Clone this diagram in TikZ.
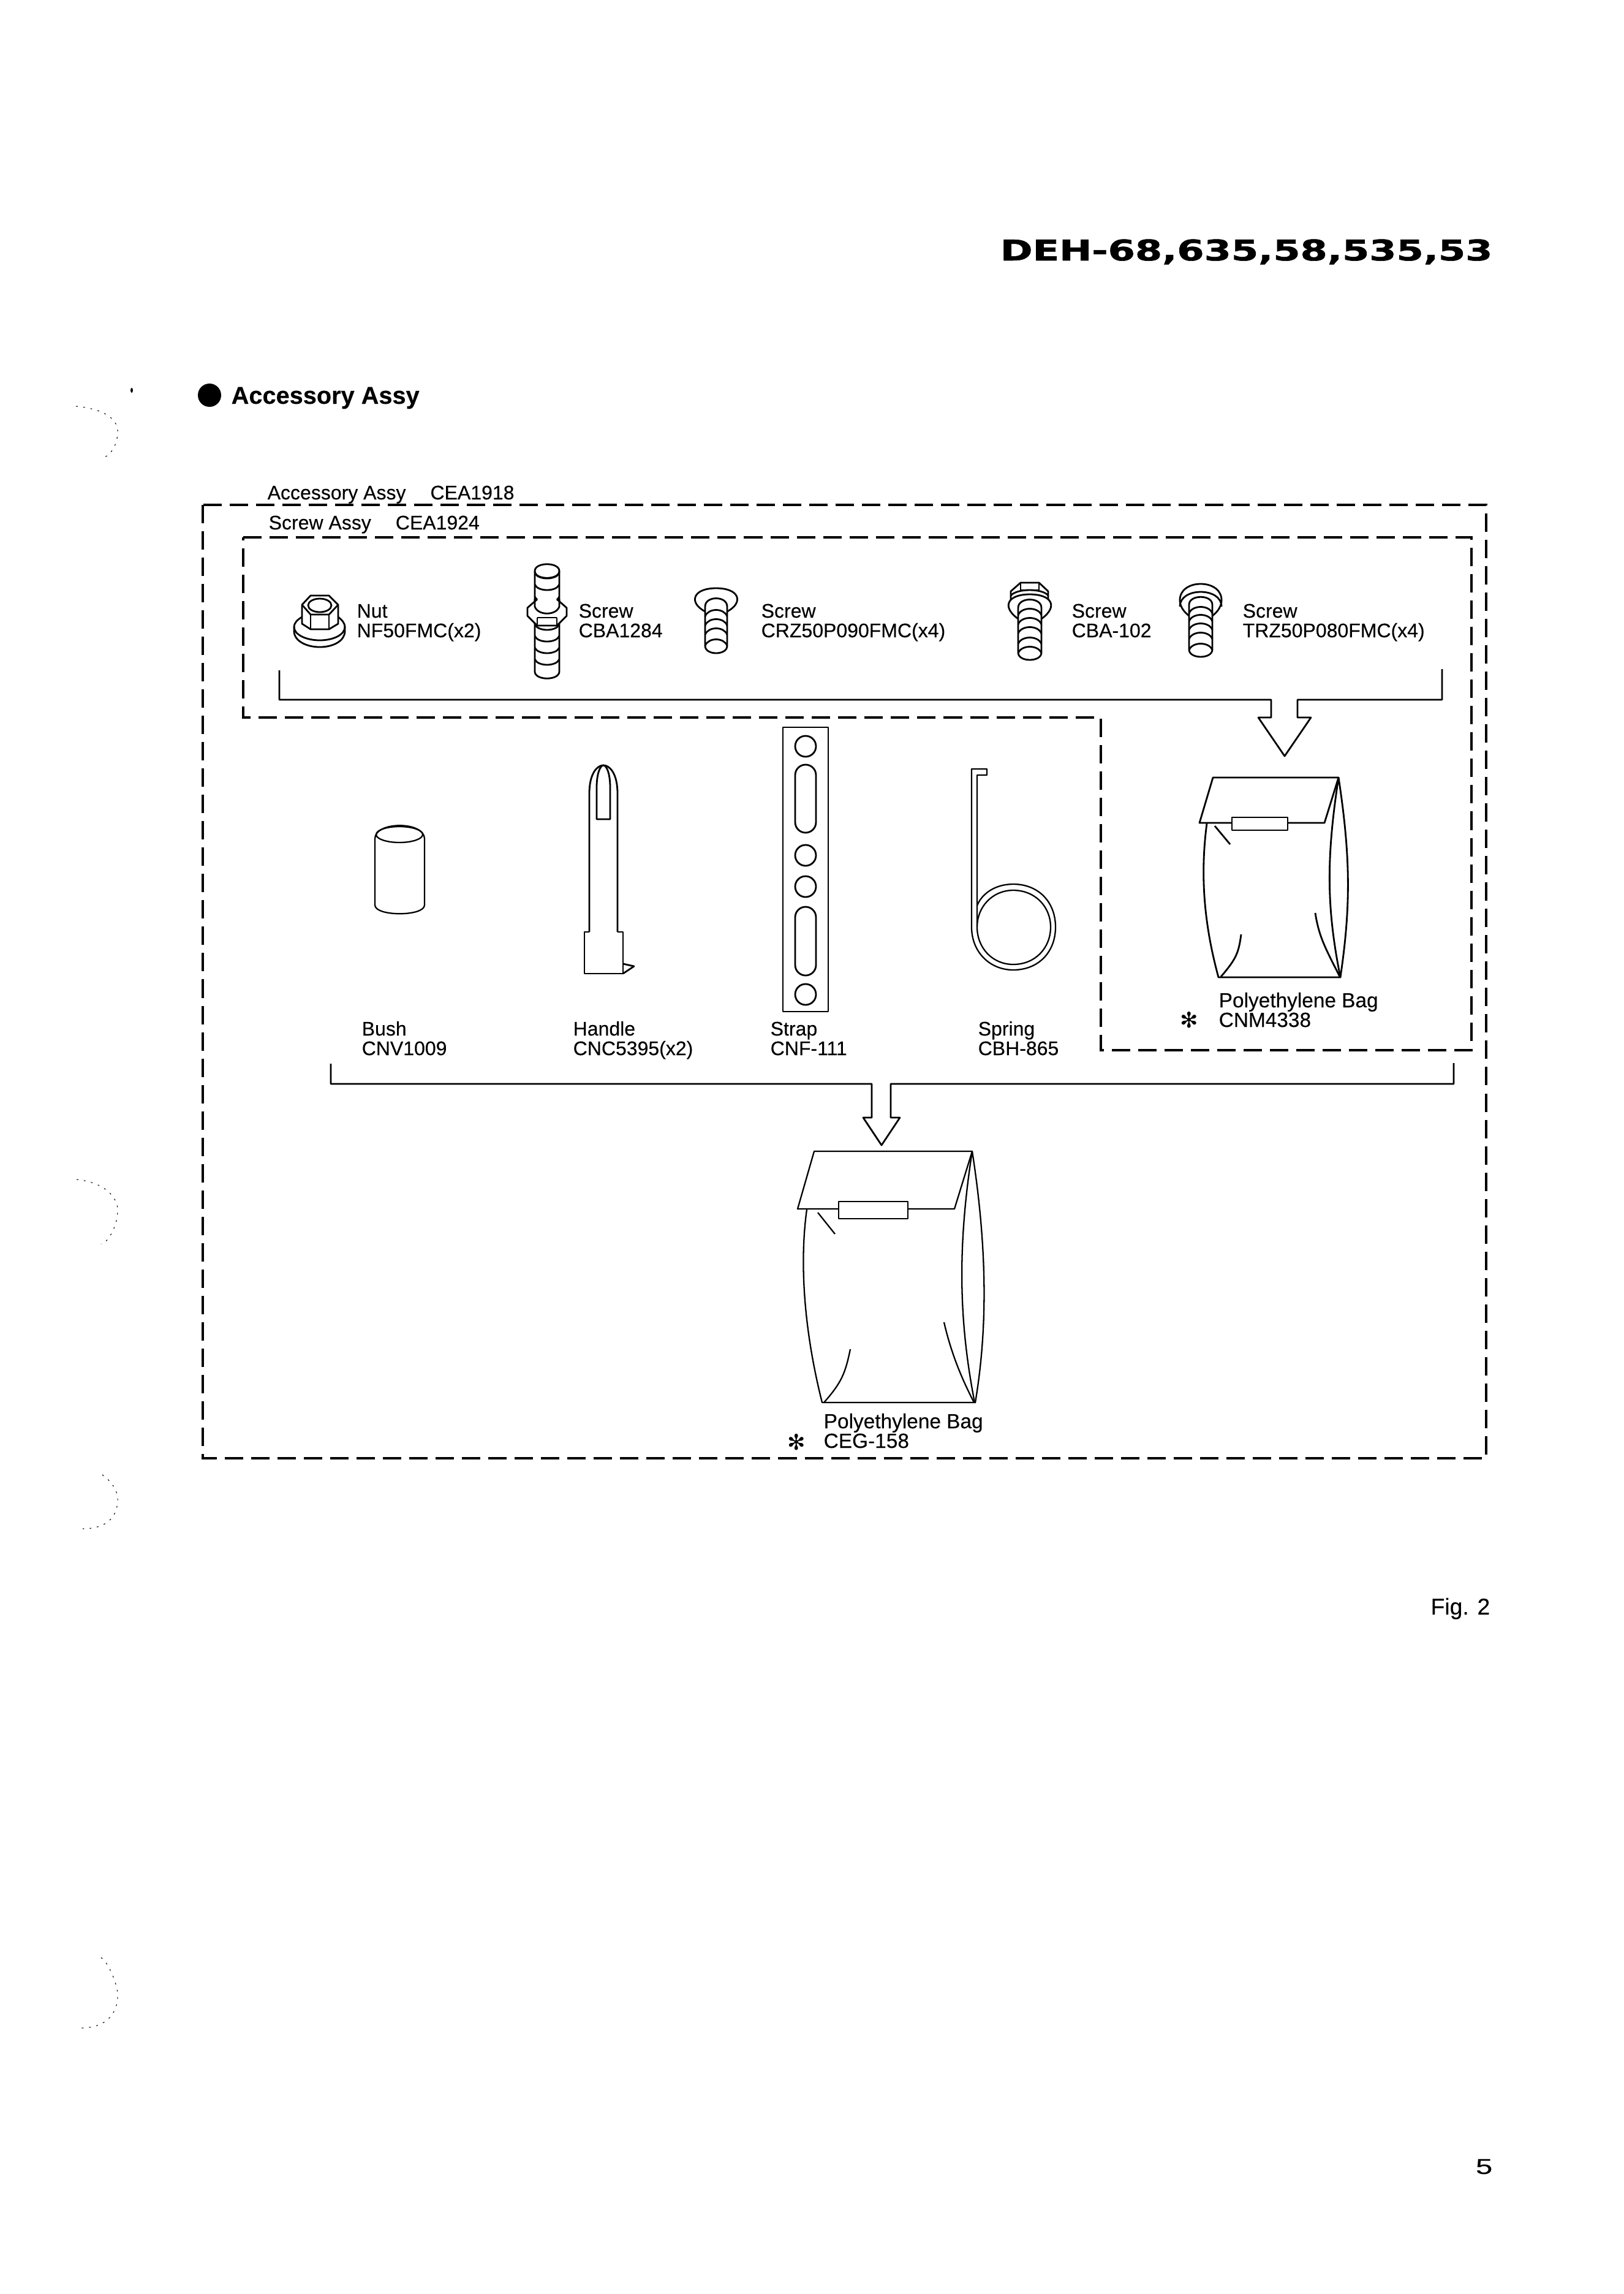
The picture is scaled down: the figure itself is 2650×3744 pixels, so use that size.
\documentclass[tikz,border=0pt]{standalone}
\usepackage{fontspec}
\setmainfont[FakeBold=0.2]{Liberation Sans}
\newfontfamily\wideface[FakeBold=1.2]{DejaVu Sans}
\newfontfamily\starface{DejaVu Sans}

\tikzset{
	part/.style={draw=black,line width=0.8pt,line join=round},
	thinpart/.style={draw=black,line width=0.65pt,line join=round},
	dashbox/.style={draw=black,line width=1.1pt,dash pattern=on 0.3cm off 0.13cm},
	frontpart/.style={part,fill=white},
	lbl/.style={inner sep=0pt,anchor=base west,align=left,font=\fontsize{9.1}{9.1}\selectfont},
	baglbl/.style={lbl,font=\fontsize{9.5}{9.1}\selectfont},
	starlbl/.style={inner sep=0pt,font=\starface\fontsize{10}{10}\selectfont},
	holemark/.style={draw=black,line width=0.3pt,dash pattern=on 0.8pt off 2.6pt}
}

\begin{document}
\begin{tikzpicture}[x=0.01cm,y=-0.01cm]
	\useasboundingbox (0,0) rectangle (2650,3744);

	% page header and heading
	\node[inner sep=0pt,anchor=base east] (title) at (2437,425)
		{\scalebox{1.37}[1]{\wideface\bfseries\fontsize{13.2}{13.2}\selectfont DEH-68,635,58,535,53}};
	\fill (342,645) ellipse (19 and 19);
	\fill (215,637) ellipse (2 and 4);
	\node[inner sep=0pt,anchor=base west,font=\bfseries\fontsize{11.3}{11.3}\selectfont] (heading) at (377,659) {Accessory Assy};

	% binding holes showing through
	\foreach \ty/\ry/\by/\tx/\bx in {663/707/747/124/167,1925/1978/2030/125/165,2407/2450/2495/167/135,3195/3260/3310/165/130}
		\draw[holemark] (\tx,\ty) .. controls (175,\ty+5) and (194,\ry-20) .. (192,\ry) .. controls (191,\ry+25) and (175,\by) .. (\bx,\by);

	% assy frames
	\draw[dashbox] (331,824) rectangle (2426,2380);
	\draw[dashbox] (397,877) -- (2402,877) -- (2402,1714) -- (1797,1714) -- (1797,1171) -- (397,1171) -- cycle;
	\node[lbl] (accassy) at (436,815) {Accessory Assy\hspace{1.25em}CEA1918};
	\node[lbl] (scrassy) at (438,864) {Screw Assy\hspace{1.25em}CEA1924};

	% nut
	\draw[part] (493,1007) .. controls (484,1012) and (480,1018) .. (480,1023) -- (480,1030)
		.. controls (480,1046) and (500,1056) .. (522,1056) .. controls (544,1056) and (563,1046) .. (563,1030) -- (563,1023)
		.. controls (563,1018) and (559,1012) .. (552,1007);
	\draw[part] (480,1023) .. controls (480,1036) and (500,1045) .. (522,1045) .. controls (544,1045) and (563,1036) .. (563,1023);
	\draw[frontpart] (507,972) -- (537,972) -- (552,987) -- (552,1018) -- (537,1027) -- (507,1027) -- (493,1018) -- (493,987) -- cycle;
	\draw[part] (493,987) -- (507,1003) -- (537,1003) -- (552,987);
	\draw[part] (507,1003) -- (507,1027) (537,1003) -- (537,1027);
	\draw[part] (522,988) ellipse (19 and 11);
	\node[lbl] (nut) at (582,1040) {Nut\\NF50FMC(x2)};

	% stud
	\draw[part] (873,932) .. controls (873,917) and (913,917) .. (913,932) -- (913,1096) .. controls (913,1111) and (873,1111) .. (873,1096) -- cycle;
	\foreach \y in {944,963,983,1028,1047,1066,1085}
		\draw[part] (873,\y-9) .. controls (878,\y+3) and (908,\y+3) .. (913,\y-9);
	\draw[part] (873,932) .. controls (873,947) and (913,947) .. (913,932);
	\draw[frontpart] (877,978) -- (861,992) -- (861,1005) -- (877,1021) -- (909,1021) -- (925,1005) -- (925,992) -- (909,978);
	\draw[part] (873,978) -- (873,990) .. controls (878,1005) and (908,1005) .. (913,990) -- (913,978);
	\draw[part] (877,1008) -- (909,1008) (877,1008) -- (877,1021) (909,1008) -- (909,1021);
	\node[lbl] (stud) at (944,1040) {Screw\\CBA1284};

	% pan head
	\draw[part] (1151,998) .. controls (1124,984) and (1130,960) .. (1169,960) .. controls (1208,960) and (1214,984) .. (1187,998);
	\draw[part] (1151,990) .. controls (1151,972) and (1187,972) .. (1187,990) -- (1187,1054) .. controls (1187,1070) and (1151,1070) .. (1151,1054) -- cycle;
	\foreach \y in {995,1010,1025,1043}
		\draw[part] (1151,\y+11) .. controls (1156,\y-3) and (1182,\y-3) .. (1187,\y+11);
	\node[lbl] (panhead) at (1242,1040) {Screw\\CRZ50P090FMC(x4)};

	% hex head with washer
	\draw[frontpart] (1666,951) -- (1696,951) -- (1711,965) -- (1711,985) -- (1650,985) -- (1650,965) -- cycle;
	\draw[part] (1666,951) -- (1666,963) -- (1696,963) -- (1696,951);
	\draw[frontpart] (1662,1010) .. controls (1634,990) and (1645,970) .. (1681,970) .. controls (1717,970) and (1728,990) .. (1700,1010);
	\draw[part] (1650,972) .. controls (1660,960) and (1702,960) .. (1711,972);
	\draw[part] (1662,992) .. controls (1662,974) and (1700,974) .. (1700,992) -- (1700,1065) .. controls (1700,1081) and (1662,1081) .. (1662,1065) -- cycle;
	\foreach \y in {993,1008,1023,1040,1055}
		\draw[part] (1662,\y+11) .. controls (1667,\y-3) and (1695,\y-3) .. (1700,\y+11);
	\node[lbl] (hexhead) at (1749,1040) {Screw\\CBA-102};

	% truss head
	\draw[part] (1941,1005) .. controls (1914,985) and (1925,953) .. (1960,953) .. controls (1995,953) and (2006,985) .. (1979,1005);
	\draw[part] (1926,990) .. controls (1926,958) and (1994,958) .. (1994,990);
	\draw[part] (1941,987) .. controls (1941,970) and (1979,970) .. (1979,987) -- (1979,1060) .. controls (1979,1076) and (1941,1076) .. (1941,1060) -- cycle;
	\foreach \y in {990,1003,1017,1032,1050}
		\draw[part] (1941,\y+11) .. controls (1946,\y-3) and (1974,\y-3) .. (1979,\y+11);
	\node[lbl] (truss) at (2028,1040) {Screw\\TRZ50P080FMC(x4)};

	% outline arrow into the small bag
	\coordinate (screwL) at (456,1094);
	\coordinate (screwR) at (2354,1092);
	\coordinate (screwTip) at (2097,1234);
	\draw[part] (screwL) |- (2075,1142) -- (2075,1171) -- (2054,1171) -- (screwTip) -- (2140,1171) -- (2118,1171) -- (2118,1142) -| (screwR);

	% small bag
	\draw[part] (1970,1344) .. controls (1960,1420) and (1963,1500) .. (1989,1595) -- (2189,1595);
	\draw[part] (2185,1269) .. controls (2205,1400) and (2205,1480) .. (2188,1595);
	\draw[part] (2185,1269) .. controls (2165,1400) and (2165,1480) .. (2188,1595);
	\draw[part] (1983,1348) -- (2008,1378);
	\draw[part] (2026,1525) .. controls (2022,1555) and (2018,1565) .. (1993,1594);
	\draw[part] (2147,1490) .. controls (2153,1530) and (2165,1550) .. (2187,1594);
	\draw[frontpart] (1980,1269) -- (2185,1269) -- (2162,1343) -- (1958,1343) -- cycle;
	\draw[frontpart] (2011,1334) rectangle (2102,1355);
	\node[baglbl] (smallbag) at (1989,1676) {Polyethylene Bag\\CNM4338};
	\node[starlbl] (smallstar) at (1941,1665) {✻};

	% bush
	\draw[thinpart] (612,1369) .. controls (612,1340) and (693,1340) .. (693,1369) -- (693,1477) .. controls (693,1496) and (612,1496) .. (612,1477) -- cycle;
	\draw[thinpart] (652,1362) ellipse (38 and 13);
	\node[lbl] (bush) at (590,1722) {Bush\\CNV1009};

	% handle
	\draw[part] (962,1521) -- (962,1295) .. controls (962,1262) and (975,1249) .. (985,1249) .. controls (995,1249) and (1008,1262) .. (1008,1295) -- (1008,1521);
	\draw[part] (974,1285) .. controls (974,1262) and (980,1249) .. (985,1249) .. controls (990,1249) and (996,1262) .. (996,1285) -- (996,1337) -- (974,1337) -- cycle;
	\draw[part] (962,1521) -- (954,1521) -- (954,1589) -- (1017,1589) -- (1017,1521) -- (1008,1521);
	\draw[part] (1017,1573) -- (1035,1577) -- (1017,1589);
	\node[lbl] (handle) at (935,1722) {Handle\\CNC5395(x2)};

	% strap
	\draw[part] (1278,1187) rectangle (1352,1651);
	\foreach \y in {1218,1396,1447,1623}
		\draw[part] (1315,\y) ellipse (17 and 17);
	\draw[part,rounded corners=0.17cm] (1298,1248) rectangle (1332,1359);
	\draw[part,rounded corners=0.17cm] (1298,1480) rectangle (1332,1592);
	\node[lbl] (strap) at (1257,1722) {Strap\\CNF-111};

	% spring
	\draw[thinpart] (1595,1513) -- (1595,1265) -- (1611,1265) -- (1611,1255) -- (1586,1255) -- (1586,1513)
		.. controls (1586,1554) and (1616,1583) .. (1654,1583) .. controls (1695,1583) and (1723,1554) .. (1723,1513)
		.. controls (1723,1472) and (1695,1443) .. (1654,1443) .. controls (1625,1443) and (1603,1458) .. (1595,1478);
	\draw[thinpart] (1595,1513) .. controls (1595,1547) and (1620,1574) .. (1654,1574) .. controls (1690,1574) and (1715,1547) .. (1715,1513)
		.. controls (1715,1480) and (1690,1453) .. (1654,1453) .. controls (1620,1453) and (1595,1480) .. (1595,1513);
	\node[lbl] (spring) at (1596,1722) {Spring\\CBH-865};

	% outline arrow into the large bag
	\coordinate (partsL) at (540,1736);
	\coordinate (partsR) at (2373,1735);
	\coordinate (partsTip) at (1439,1869);
	\draw[part] (partsL) |- (1423,1769) -- (1423,1824) -- (1409,1824) -- (partsTip) -- (1469,1824) -- (1454,1824) -- (1454,1769) -| (partsR);

	% large bag
	\draw[thinpart] (1317,1974) .. controls (1305,2060) and (1312,2170) .. (1342,2289) -- (1593,2289);
	\draw[thinpart] (1587,1879) .. controls (1612,2040) and (1612,2170) .. (1592,2289);
	\draw[thinpart] (1587,1879) .. controls (1562,2040) and (1566,2160) .. (1591,2289);
	\draw[thinpart] (1335,1979) -- (1363,2014);
	\draw[thinpart] (1388,2202) .. controls (1380,2240) and (1375,2255) .. (1345,2289);
	\draw[thinpart] (1541,2158) .. controls (1553,2210) and (1570,2250) .. (1590,2289);
	\draw[thinpart,fill=white] (1329,1879) -- (1587,1879) -- (1558,1973) -- (1302,1973) -- cycle;
	\draw[thinpart,fill=white] (1369,1961) rectangle (1482,1989);
	\node[baglbl] (largebag) at (1344,2363) {Polyethylene Bag\\CEG-158};
	\node[starlbl] (largestar) at (1300,2354) {✻};

	\node[inner sep=0pt,anchor=base east,font=\fontsize{10.6}{10.6}\selectfont] (figno) at (2433,2635) {Fig. 2};
	\node[inner sep=0pt,anchor=base east] (pageno) at (2437,3548) {\scalebox{1.4}[1]{\fontsize{10}{10}\selectfont 5}};
\end{tikzpicture}
\end{document}
